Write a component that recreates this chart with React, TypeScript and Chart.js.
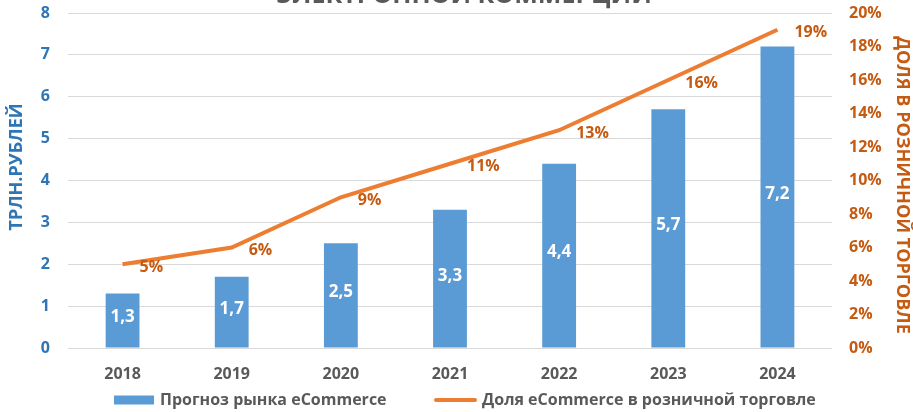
import React, { useEffect, useRef } from 'react';
import { Chart, registerables } from 'chart.js';

Chart.register(...registerables);

const titleText = 'ЭЛЕКТРОННОЙ КОММЕРЦИИ';
const categories = ['2018', '2019', '2020', '2021', '2022', '2023', '2024'];
const marketValues = [1.3, 1.7, 2.5, 3.3, 4.4, 5.7, 7.2];
const shareValues = [5, 6, 9, 11, 13, 16, 19];
const marketName = 'Прогноз рынка eCommerce';
const shareName = 'Доля eCommerce в розничной торговле';
const leftTitle = 'ТРЛН.РУБЛЕЙ';
const rightTitle = 'ДОЛЯ В РОЗНИЧНОЙ ТОРГОВЛЕ';

const FONT = '"Open Sans", "Noto Sans", sans-serif';
const BLUE_BAR = '#5B9BD5';
const ORANGE = '#ED7D31';
const BLUE_TXT = '#2E75B6';
const ORANGE_TXT = '#C55A11';
const GRAY = '#595959';

const fmtComma = (v: number) => v.toFixed(1).replace('.', ',');

const labelsPlugin = {
  id: 'customLabels',
  afterDatasetsDraw(chart: any) {
    const ctx = chart.ctx;
    ctx.save();
    const barMeta = chart.getDatasetMeta(1);
    ctx.font = `bold 17px ${FONT}`;
    ctx.fillStyle = '#FFFFFF';
    ctx.textAlign = 'center';
    ctx.textBaseline = 'middle';
    barMeta.data.forEach((el: any, i: number) => {
      const y = (el.y + el.base) / 2 - 3;
      ctx.fillText(fmtComma(marketValues[i]), el.x, y);
    });
    const lineMeta = chart.getDatasetMeta(0);
    ctx.font = `bold 16px ${FONT}`;
    ctx.fillStyle = ORANGE_TXT;
    ctx.textAlign = 'left';
    lineMeta.data.forEach((el: any, i: number) => {
      ctx.fillText(shareValues[i] + '%', el.x + 17, el.y + 3);
    });
    ctx.restore();
  },
  afterDraw(chart: any) {
    const ctx = chart.ctx;
    ctx.save();
    // title (clipped at top)
    ctx.font = `bold 25px ${FONT}`;
    ctx.fillStyle = GRAY;
    ctx.textAlign = 'center';
    ctx.textBaseline = 'alphabetic';
    ctx.fillText(titleText, 464, 3);

    // axis titles
    ctx.font = `bold 18px ${FONT}`;
    ctx.textBaseline = 'middle';
    ctx.fillStyle = BLUE_TXT;
    ctx.save();
    ctx.translate(17, 167);
    ctx.rotate(-Math.PI / 2);
    ctx.fillText(leftTitle, 0, 0);
    ctx.restore();
    ctx.fillStyle = ORANGE_TXT;
    ctx.save();
    ctx.translate(902, 185);
    ctx.rotate(Math.PI / 2);
    ctx.fillText(rightTitle, 0, 0);
    ctx.restore();

    // legend
    ctx.font = `bold 16px ${FONT}`;
    ctx.textBaseline = 'middle';
    ctx.textAlign = 'left';
    const ly = 400;
    ctx.fillStyle = BLUE_BAR;
    ctx.fillRect(114, ly - 4.5, 40, 9);
    ctx.fillStyle = GRAY;
    ctx.fillText(marketName, 160, ly);
    ctx.strokeStyle = ORANGE;
    ctx.lineWidth = 4;
    ctx.lineCap = 'round';
    ctx.beginPath();
    ctx.moveTo(436, ly);
    ctx.lineTo(475, ly);
    ctx.stroke();
    ctx.fillText(shareName, 482, ly);
    ctx.restore();
  },
};

export default function App() {
  const ref = useRef<HTMLCanvasElement | null>(null);
  useEffect(() => {
    if (!ref.current) return;
    const chart = new Chart(ref.current, {
      type: 'bar',
      data: {
        labels: categories,
        datasets: [
          {
            type: 'line',
            label: shareName,
            data: shareValues,
            yAxisID: 'y1',
            borderColor: ORANGE,
            backgroundColor: ORANGE,
            borderWidth: 4,
            pointRadius: 0,
            tension: 0,
            order: 0,
          } as any,
          {
            type: 'bar',
            label: marketName,
            data: marketValues,
            yAxisID: 'y',
            backgroundColor: BLUE_BAR,
            barPercentage: 0.31,
            categoryPercentage: 1,
            order: 1,
          },
        ],
      },
      plugins: [labelsPlugin],
      options: {
        animation: false,
        responsive: false,
        layout: { padding: { top: 13, left: 0, right: 0, bottom: 0 } },
        plugins: {
          legend: { display: false },
          tooltip: { enabled: false },
          title: { display: false },
        },
        scales: {
          x: {
            grid: { display: false, drawTicks: false },
            border: { display: false },
            ticks: { color: GRAY, font: { family: FONT, size: 16, weight: 'bold' }, padding: 17 },
            afterFit: (s: any) => { s.height = 64; s.paddingLeft = 0; s.paddingRight = 0; },
          },
          y: {
            position: 'left',
            min: 0,
            max: 8,
            ticks: { stepSize: 1, color: BLUE_TXT, font: { family: FONT, size: 16, weight: 'bold' }, padding: 18 },
            grid: { color: '#D9D9D9', lineWidth: 1, drawTicks: false },
            border: { display: false },
            afterFit: (s: any) => { s.width = 68; s.paddingTop = 0; s.paddingBottom = 0; },
          },
          y1: {
            position: 'right',
            min: 0,
            max: 20,
            ticks: {
              stepSize: 2,
              color: ORANGE_TXT,
              font: { family: FONT, size: 16, weight: 'bold' },
              padding: 17,
              callback: (v: any) => v + '%',
            },
            grid: { display: false, drawTicks: false },
            border: { display: false },
            afterFit: (s: any) => { s.width = 81; s.paddingTop = 0; s.paddingBottom = 0; },
          },
        },
      } as any,
    });
    return () => chart.destroy();
  }, []);
  return (
    <div style={{ position: 'fixed', left: 0, top: 0, width: 913, height: 412, background: '#fff' }}>
      <canvas ref={ref} width={913} height={412} style={{ width: 913, height: 412, display: 'block' }} />
    </div>
  );
}
